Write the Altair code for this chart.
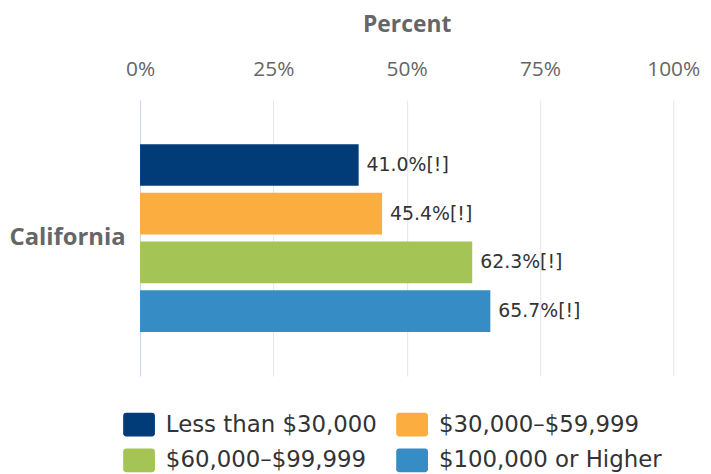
import altair as alt
import pandas as pd

states = ["California"]
groups = ["Less than $30,000", "$30,000–$59,999", "$60,000–$99,999", "$100,000 or Higher"]
values = [41.0, 45.4, 62.3, 65.7]
labels = ["41.0%[!]", "45.4%[!]", "62.3%[!]", "65.7%[!]"]
colors = ["#023c78", "#fbad3f", "#a5c456", "#368cc4"]
ticks = [0, 25, 50, 75, 100]

df = pd.DataFrame({
    "state": states * len(groups),
    "group": groups,
    "value": values,
    "label": labels,
})

# legend fills column by column, so list entries so rows read 1,2 / 3,4
legend_order = [0, 2, 1, 3]
legend_domain = [groups[i] for i in legend_order]
legend_range = [colors[i] for i in legend_order]

r = 0.1875
sym = (f"M{-1+r},-0.75 H{1-r} A{r},{r} 0 0 1 1,{-0.75+r} V{0.75-r} "
       f"A{r},{r} 0 0 1 {1-r},0.75 H{-1+r} A{r},{r} 0 0 1 -1,{0.75-r} "
       f"V{-0.75+r} A{r},{r} 0 0 1 {-1+r},-0.75 Z")

x = alt.X(
    "value:Q",
    scale=alt.Scale(domain=[0, 100], nice=False),
    axis=alt.Axis(
        orient="top", title="Percent", values=ticks,
        labelExpr="datum.value + '%'",
        labelFlush=False, labelAlign="center",
        labelFont="Open Sans", labelFontSize=21, labelColor="#666666",
        labelPadding=21, ticks=False, tickSize=0, domain=False,
        grid=True, gridColor="#e6e6e6",
        titleFont="Open Sans", titleFontSize=23, titleFontWeight="bold",
        titleColor="#666666", titlePadding=22,
    ),
)
y = alt.Y(
    "state:N",
    scale=alt.Scale(paddingInner=0, paddingOuter=0.235),
    axis=alt.Axis(
        title=None, labelFont="Open Sans", labelFontWeight="bold",
        labelFontSize=24, labelColor="#666666", labelPadding=15,
        ticks=False, domainColor="#ccd6eb", domainWidth=1, grid=False,
    ),
)
yoff = alt.YOffset(
    "group:N", sort=groups,
    scale=alt.Scale(paddingInner=0.143, paddingOuter=0),
)

bars = alt.Chart(df).mark_bar().encode(
    x=x, y=y, yOffset=yoff,
    color=alt.Color(
        "group:N",
        scale=alt.Scale(domain=legend_domain, range=legend_range),
        legend=alt.Legend(
            orient="none", legendX=-17, legendY=311, columns=2, title=None,
            symbolType=sym, symbolSize=1024, symbolStrokeWidth=0,
            symbolOpacity=1, labelFont="DejaVu Sans", labelFontSize=23,
            labelColor="#333333", labelOffset=11, columnPadding=19,
            rowPadding=8, padding=0, labelLimit=400,
        ),
    ),
)

text = alt.Chart(df).mark_text(
    align="left", baseline="middle", dx=8,
    font="DejaVu Sans", fontSize=19, color="#333333",
).encode(x="value:Q", y="state:N", yOffset=alt.YOffset("group:N", sort=groups), text="label:N")

chart = alt.layer(bars, text).properties(
    width=537, height=278,
    padding={"left": 133, "top": 91, "right": 30, "bottom": 97},
    autosize=alt.AutoSizeParams(type="none"),
).configure_view(stroke=None)

chart.save("out.html", embed_options={"renderer": "svg", "actions": False})
